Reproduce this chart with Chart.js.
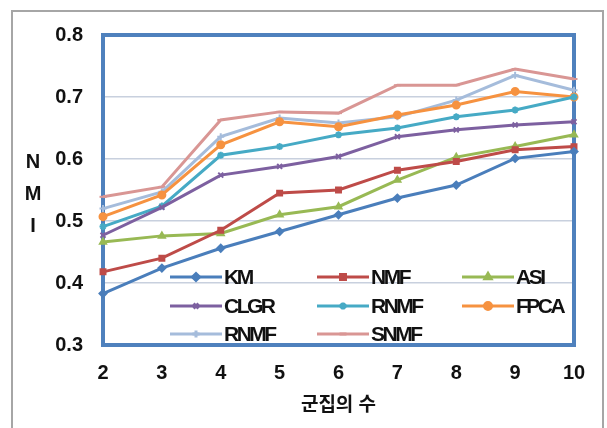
<!DOCTYPE html>
<html>
<head>
<meta charset="utf-8">
<script src="https://cdn.jsdelivr.net/npm/chart.js@4"></script>
<style>
  html, body { margin: 0; padding: 0; background: #fff; }
  #wrap { width: 607px; height: 428px; position: relative; }
</style>
</head>
<body>
<div id="wrap"><canvas id="nmi-chart" width="607" height="428"></canvas></div>
<script>
const clusters = ["2", "3", "4", "5", "6", "7", "8", "9", "10"]
const yTicks = [0.3, 0.4, 0.5, 0.6, 0.7, 0.8]

const km    = [0.383, 0.424, 0.456, 0.483, 0.510, 0.537, 0.558, 0.601, 0.612]
const nmf   = [0.418, 0.440, 0.485, 0.545, 0.550, 0.582, 0.596, 0.615, 0.620]
const asi   = [0.466, 0.476, 0.480, 0.510, 0.523, 0.566, 0.603, 0.620, 0.639]
const clgr  = [0.477, 0.522, 0.574, 0.588, 0.604, 0.636, 0.647, 0.655, 0.660]
const rnmf  = [0.491, 0.524, 0.606, 0.620, 0.639, 0.650, 0.668, 0.679, 0.700]
const fpca  = [0.507, 0.542, 0.623, 0.660, 0.652, 0.671, 0.687, 0.709, 0.700]
const rnmf2 = [0.520, 0.547, 0.636, 0.666, 0.658, 0.668, 0.695, 0.735, 0.711]
const snmf  = [0.539, 0.555, 0.663, 0.676, 0.674, 0.719, 0.719, 0.745, 0.729]

const seriesNames = ["KM", "NMF", "ASI", "CLGR", "RNMF", "FPCA", "RNMF", "SNMF"]
const seriesData = [km, nmf, asi, clgr, rnmf, fpca, rnmf2, snmf]
const seriesColors = ["#4a7ebb", "#be4b48", "#98b954", "#7d60a0", "#46aac5", "#f69240", "#a5bcdb", "#d99694"]
const seriesMarkers = ["rectRot", "rect", "triangle", "crossRot", "star", "circle", "cross", "line"]

const FONT = '"Liberation Sans", Arial, "Noto Sans CJK KR", sans-serif'

function drawMarker(ctx, style, x, y, r) {
    if (Chart.helpers && Chart.helpers.drawPoint) {
        Chart.helpers.drawPoint(ctx, { pointStyle: style, radius: r, borderWidth: 2 }, x, y)
    } else {
        ctx.beginPath()
        ctx.arc(x, y, r, 0, Math.PI * 2)
        ctx.fill()
    }
}

// frame, plot border, y title and legend drawn over the chart
const decor = {
    id: "decor",
    beforeDraw(chart) {
        let ctx = chart.ctx
        ctx.save()
        ctx.strokeStyle = "#a6a6a6"
        ctx.lineWidth = 2
        ctx.strokeRect(12, 11, 591, 430)
        ctx.restore()
    },
    beforeDatasetsDraw(chart) {
        let ctx = chart.ctx
        let a = chart.chartArea
        ctx.save()
        ctx.strokeStyle = "#4f81bd"
        ctx.lineWidth = 4
        ctx.strokeRect(a.left, a.top, a.right - a.left, a.bottom - a.top)
        // NMI title, letters stacked
        ctx.fillStyle = "#111"
        ctx.font = "bold 20px " + FONT
        ctx.textAlign = "center"
        ctx.textBaseline = "middle"
        let letters = ["N", "M", "I"]
        letters.forEach((l, i) => ctx.fillText(l, 33, 162 + i * 32))
        ctx.restore()
    },
    afterDatasetsDraw(chart) {
        let ctx = chart.ctx
        let cols = [170, 317, 462]
        let rows = [277, 306, 334]
        ctx.save()
        chart.data.datasets.forEach((ds, i) => {
            let x = cols[i % 3]
            let y = rows[Math.floor(i / 3)]
            ctx.strokeStyle = ds.borderColor
            ctx.fillStyle = ds.borderColor
            ctx.lineWidth = 3
            ctx.beginPath()
            ctx.moveTo(x, y)
            ctx.lineTo(x + 52, y)
            ctx.stroke()
            drawMarker(ctx, ds.pointStyle, x + 26, y, 3.5)
            ctx.fillStyle = "#111"
            ctx.font = "bold 21px " + FONT
            ctx.letterSpacing = "-2.5px"
            ctx.textAlign = "left"
            ctx.textBaseline = "middle"
            ctx.fillText(ds.label, x + 54, y + 1)
            ctx.letterSpacing = "0px"
        })
        ctx.restore()
    }
}

let ctx = document.getElementById("nmi-chart").getContext("2d")
let chart = new Chart(ctx, {
    type: "line",
    data: {
        labels: clusters,
        datasets: seriesNames.map((name, i) => ({
            label: name,
            data: seriesData[i],
            borderColor: seriesColors[i],
            backgroundColor: seriesColors[i],
            pointStyle: seriesMarkers[i],
            pointRadius: 3.5,
            pointBorderWidth: 2,
            borderWidth: 3,
            tension: 0,
            clip: false
        }))
    },
    options: {
        responsive: false,
        animation: false,
        layout: { padding: { left: 0, right: 33, top: 35, bottom: 11 } },
        plugins: {
            legend: { display: false },
            tooltip: { enabled: false }
        },
        scales: {
            x: {
                offset: false,
                grid: { display: false, drawTicks: false },
                border: { display: false },
                ticks: {
                    color: "#111",
                    padding: 16,
                    maxRotation: 0,
                    font: { family: FONT, size: 20, weight: "bold" }
                },
                title: {
                    display: true,
                    text: "군집의 수",
                    color: "#111",
                    padding: 0,
                    font: { family: FONT, size: 19, weight: "bold" }
                },
                afterFit(scale) { scale.height = 72 }
            },
            y: {
                min: 0.3,
                max: 0.8,
                grid: { color: "#c8d0de", lineWidth: 1.5, drawTicks: false },
                border: { display: false },
                afterBuildTicks(scale) { scale.ticks = yTicks.map(v => ({ value: v })) },
                ticks: {
                    color: "#111",
                    padding: 20,
                    font: { family: FONT, size: 20, weight: "bold" },
                    callback: v => v.toFixed(1)
                },
                afterFit(scale) { scale.width = 103 }
            }
        }
    },
    plugins: [decor]
})
</script>
</body>
</html>
